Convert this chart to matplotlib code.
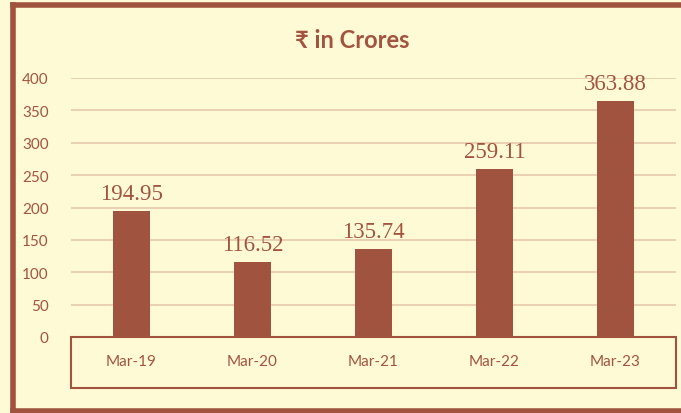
import matplotlib
matplotlib.use("Agg")
import matplotlib.pyplot as plt
from matplotlib.patches import Rectangle
from matplotlib.lines import Line2D

categories = ["Mar-19", "Mar-20", "Mar-21", "Mar-22", "Mar-23"]
values = [194.95, 116.52, 135.74, 259.11, 363.88]
yticks = [0, 50, 100, 150, 200, 250, 300, 350, 400]

BG = "#FFFAD6"
BROWN = "#A0533F"
TEXT = "#A3543F"
GRID = "#E8CDAE"

W, H = 681, 414
fig = plt.figure(figsize=(W / 100, H / 100), dpi=100, facecolor=BG)

ax_l, ax_r, ax_t, ax_b = 71, 676, 79, 338
ax = fig.add_axes([ax_l / W, (H - ax_b) / H, (ax_r - ax_l) / W, (ax_b - ax_t) / H])
ax.set_facecolor(BG)

x = list(range(len(categories)))
ax.bar(x, values, width=0.31, color=BROWN, zorder=3)
ax.set_xlim(-0.5, len(categories) - 0.5)
ax.set_ylim(0, 400)
for t in yticks[1:]:
    ax.axhline(t, color=GRID, lw=1.3, zorder=1)
for s in ax.spines.values():
    s.set_visible(False)
ax.set_yticks(yticks)
ax.set_yticklabels([str(t) for t in yticks], fontfamily=["Lato", "DejaVu Sans"],
                   fontsize=11, color=TEXT)
ax.tick_params(axis="y", length=0, pad=16)
ax.set_xticks(x)
ax.set_xticklabels(categories, fontfamily=["Lato", "DejaVu Sans"], fontsize=11, color=TEXT)
ax.tick_params(axis="x", length=0, pad=12)

for xi, v in zip(x, values):
    ax.annotate(f"{v:.2f}", (xi, v), xytext=(0, 5), textcoords="offset points",
                ha="center", va="bottom", fontsize=16.5,
                fontfamily=["Liberation Serif", "DejaVu Serif"], color=TEXT)

# category box
box_h = (389 - ax_b) / (ax_b - ax_t)
ax.add_patch(Rectangle((0, -box_h), 1, box_h, transform=ax.transAxes, fill=False,
                       edgecolor=BROWN, lw=1.5, clip_on=False, zorder=4))

# title
fig.text(352 / W, 1 - 40 / H, "₹ in Crores", ha="center", va="center",
         fontsize=17, fontweight="bold", color=TEXT,
         fontfamily=["Lato", "Noto Sans", "DejaVu Sans"])

# outer frame (left, top, bottom)
lw = 4
fx, fyt, fyb = 13 / W, 1 - 5.8 / H, 1 - 412 / H
fig.add_artist(Line2D([fx, 1.02], [fyt, fyt], transform=fig.transFigure, color=BROWN, lw=lw))
fig.add_artist(Line2D([fx, 1.02], [fyb, fyb], transform=fig.transFigure, color=BROWN, lw=lw))
fig.add_artist(Line2D([fx, fx], [fyb, fyt], transform=fig.transFigure, color=BROWN, lw=lw,
                      solid_capstyle="projecting"))

fig.savefig("out.png", dpi=100, facecolor=BG)
